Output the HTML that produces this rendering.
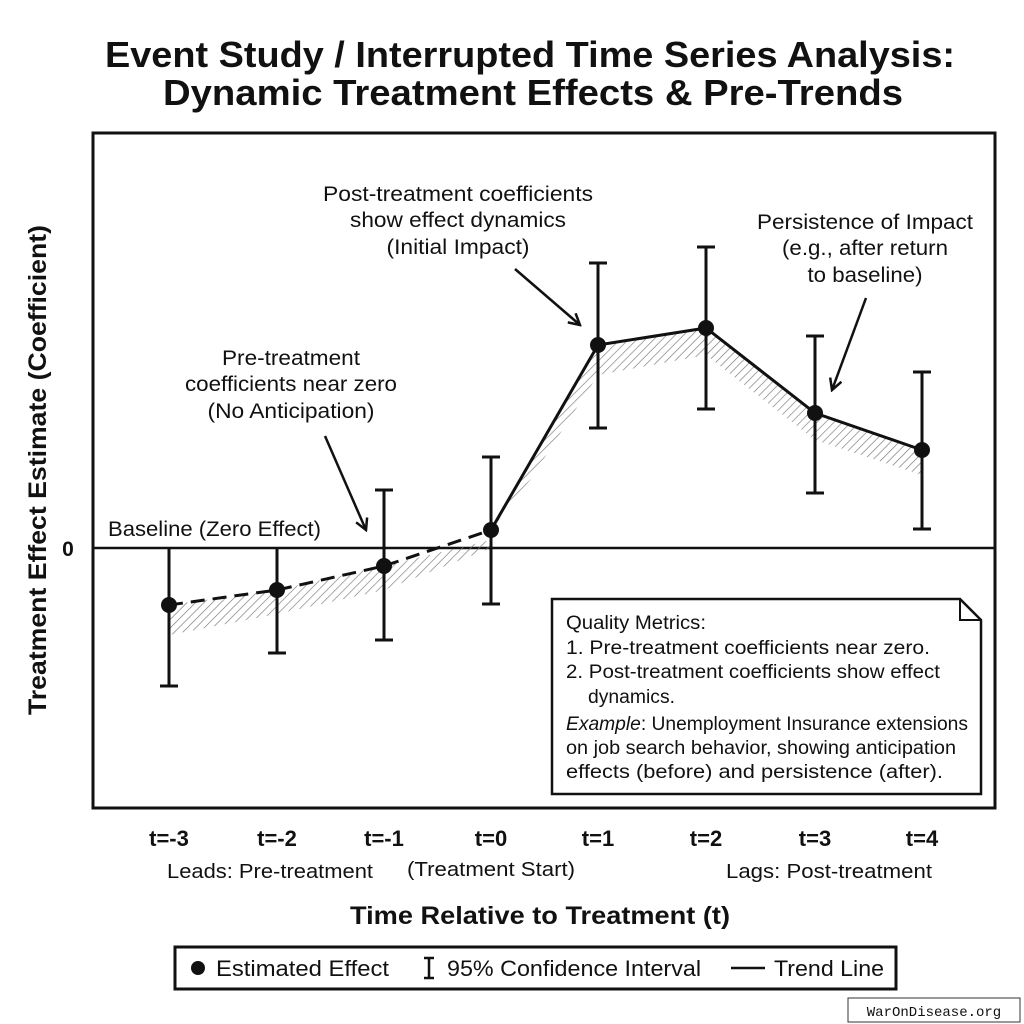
<!DOCTYPE html>
<html><head><meta charset="utf-8"><style>
html,body{margin:0;padding:0;background:#fff}
svg{display:block}
text{font-family:"Liberation Sans",sans-serif;fill:#111}
</style></head><body>
<svg width="1024" height="1024" viewBox="0 0 1024 1024" xmlns="http://www.w3.org/2000/svg">
<defs>
<pattern id="h" width="6" height="6" patternUnits="userSpaceOnUse" patternTransform="rotate(45)">
<line x1="0" y1="0" x2="0" y2="6" stroke="#777" stroke-width="1.3"/>
</pattern>
<marker id="ar" markerWidth="14" markerHeight="14" refX="12" refY="7" orient="auto" markerUnits="userSpaceOnUse">
<path d="M1,1 L12,7 L1,13" fill="none" stroke="#111" stroke-width="2.5"/>
</marker>
</defs>
<rect width="1024" height="1024" fill="#fff"/>
<text x="530" y="67" font-size="36" font-weight="bold" text-anchor="middle" textLength="850" lengthAdjust="spacingAndGlyphs">Event Study / Interrupted Time Series Analysis:</text>
<text x="533" y="105" font-size="36" font-weight="bold" text-anchor="middle" textLength="740" lengthAdjust="spacingAndGlyphs">Dynamic Treatment Effects &amp; Pre-Trends</text>
<rect x="93" y="133" width="902" height="675" fill="none" stroke="#111" stroke-width="3"/>
<line x1="93" y1="548" x2="995" y2="548" stroke="#111" stroke-width="2.5"/>
<text x="68" y="556" font-size="21" font-weight="bold" text-anchor="middle">0</text>
<text transform="translate(46,470) rotate(-90)" font-size="25" font-weight="bold" text-anchor="middle" textLength="490" lengthAdjust="spacingAndGlyphs">Treatment Effect Estimate (Coefficient)</text>
<text x="108" y="536" font-size="21" textLength="213" lengthAdjust="spacingAndGlyphs">Baseline (Zero Effect)</text>
<polygon points="169,605 277,590 384,566 491,540 491,548 384,590 277,614 169,635" fill="url(#h)"/>
<polygon points="491,530 598,345 706,328 815,413 922,450 922,475 815,440 706,355 598,375 530,480" fill="url(#h)"/>
<polyline points="169,605 277,590 384,566 491,530" fill="none" stroke="#111" stroke-width="3" stroke-dasharray="14,8"/>
<polyline points="491,530 598,345 706,328 815,413 922,450" fill="none" stroke="#111" stroke-width="3"/>
<g stroke="#111" stroke-width="3">
<line x1="169" y1="548" x2="169" y2="686"/><line x1="160" y1="686" x2="178" y2="686"/>
<line x1="277" y1="548" x2="277" y2="653"/><line x1="268" y1="653" x2="286" y2="653"/>
<line x1="384" y1="490" x2="384" y2="640"/><line x1="375" y1="490" x2="393" y2="490"/><line x1="375" y1="640" x2="393" y2="640"/>
<line x1="491" y1="457" x2="491" y2="604"/><line x1="482" y1="457" x2="500" y2="457"/><line x1="482" y1="604" x2="500" y2="604"/>
<line x1="598" y1="263" x2="598" y2="428"/><line x1="589" y1="263" x2="607" y2="263"/><line x1="589" y1="428" x2="607" y2="428"/>
<line x1="706" y1="247" x2="706" y2="409"/><line x1="697" y1="247" x2="715" y2="247"/><line x1="697" y1="409" x2="715" y2="409"/>
<line x1="815" y1="336" x2="815" y2="493"/><line x1="806" y1="336" x2="824" y2="336"/><line x1="806" y1="493" x2="824" y2="493"/>
<line x1="922" y1="372" x2="922" y2="529"/><line x1="913" y1="372" x2="931" y2="372"/><line x1="913" y1="529" x2="931" y2="529"/>
</g>
<g fill="#111">
<circle cx="169" cy="605" r="8"/><circle cx="277" cy="590" r="8"/><circle cx="384" cy="566" r="8"/><circle cx="491" cy="530" r="8"/>
<circle cx="598" cy="345" r="8"/><circle cx="706" cy="328" r="8"/><circle cx="815" cy="413" r="8"/><circle cx="922" cy="450" r="8"/>
</g>
<g font-size="21" text-anchor="middle">
<text x="291" y="365" textLength="138" lengthAdjust="spacingAndGlyphs">Pre-treatment</text>
<text x="291" y="391" textLength="212" lengthAdjust="spacingAndGlyphs">coefficients near zero</text>
<text x="291" y="418" textLength="167" lengthAdjust="spacingAndGlyphs">(No Anticipation)</text>
<text x="458" y="201" textLength="270" lengthAdjust="spacingAndGlyphs">Post-treatment coefficients</text>
<text x="458" y="227" textLength="216" lengthAdjust="spacingAndGlyphs">show effect dynamics</text>
<text x="458" y="254" textLength="143" lengthAdjust="spacingAndGlyphs">(Initial Impact)</text>
<text x="865" y="229" textLength="216" lengthAdjust="spacingAndGlyphs">Persistence of Impact</text>
<text x="865" y="255" textLength="166" lengthAdjust="spacingAndGlyphs">(e.g., after return</text>
<text x="865" y="282" textLength="115" lengthAdjust="spacingAndGlyphs">to baseline)</text>
</g>
<g stroke="#111" stroke-width="2.5" fill="none">
<line x1="325" y1="436" x2="366" y2="530" marker-end="url(#ar)"/>
<line x1="515" y1="269" x2="580" y2="325" marker-end="url(#ar)"/>
<line x1="866" y1="298" x2="832" y2="390" marker-end="url(#ar)"/>
</g>
<path d="M552,599 L960,599 L981,620 L981,794 L552,794 Z" fill="#fff" stroke="#111" stroke-width="2.5"/>
<path d="M960,599 L960,620 L981,620" fill="none" stroke="#111" stroke-width="2"/>
<g font-size="19">
<text x="566" y="629" textLength="140" lengthAdjust="spacingAndGlyphs">Quality Metrics:</text>
<text x="566" y="654" textLength="364" lengthAdjust="spacingAndGlyphs">1. Pre-treatment coefficients near zero.</text>
<text x="566" y="678" textLength="374" lengthAdjust="spacingAndGlyphs">2. Post-treatment coefficients show effect</text>
<text x="588" y="703" textLength="87" lengthAdjust="spacingAndGlyphs">dynamics.</text>
<text x="566" y="730" textLength="402" lengthAdjust="spacingAndGlyphs"><tspan font-style="italic">Example</tspan>: Unemployment Insurance extensions</text>
<text x="566" y="754" textLength="390" lengthAdjust="spacingAndGlyphs">on job search behavior, showing anticipation</text>
<text x="566" y="778" textLength="377" lengthAdjust="spacingAndGlyphs">effects (before) and persistence (after).</text>
</g>
<g font-size="22" font-weight="bold" text-anchor="middle">
<text x="169" y="846">t=-3</text><text x="277" y="846">t=-2</text><text x="384" y="846">t=-1</text><text x="491" y="846">t=0</text>
<text x="598" y="846">t=1</text><text x="706" y="846">t=2</text><text x="815" y="846">t=3</text><text x="922" y="846">t=4</text>
</g>
<g font-size="20" text-anchor="middle">
<text x="270" y="878" textLength="206" lengthAdjust="spacingAndGlyphs">Leads: Pre-treatment</text>
<text x="491" y="876" textLength="168" lengthAdjust="spacingAndGlyphs">(Treatment Start)</text>
<text x="829" y="878" textLength="206" lengthAdjust="spacingAndGlyphs">Lags: Post-treatment</text>
</g>
<text x="540" y="924" font-size="25" font-weight="bold" text-anchor="middle" textLength="380" lengthAdjust="spacingAndGlyphs">Time Relative to Treatment (t)</text>
<rect x="175" y="947" width="721" height="42" fill="#fff" stroke="#111" stroke-width="3"/>
<circle cx="198" cy="968" r="7" fill="#111"/>
<text x="216" y="976" font-size="22" textLength="173" lengthAdjust="spacingAndGlyphs">Estimated Effect</text>
<g stroke="#111" stroke-width="2.5"><line x1="429" y1="958" x2="429" y2="978"/><line x1="424" y1="958" x2="434" y2="958"/><line x1="424" y1="978" x2="434" y2="978"/>
<line x1="731" y1="968" x2="765" y2="968"/></g>
<text x="447" y="976" font-size="22" textLength="254" lengthAdjust="spacingAndGlyphs">95% Confidence Interval</text>
<text x="774" y="976" font-size="22" textLength="110" lengthAdjust="spacingAndGlyphs">Trend Line</text>
<rect x="848" y="998" width="172" height="24" fill="#fff" stroke="#333" stroke-width="1"/>
<text x="934" y="1016" font-size="14" text-anchor="middle" style="font-family:'Liberation Mono',monospace">WarOnDisease.org</text>
</svg>
</body></html>
